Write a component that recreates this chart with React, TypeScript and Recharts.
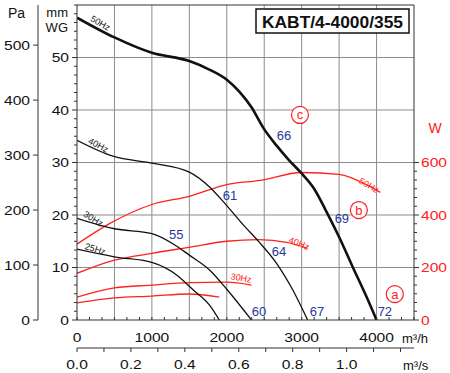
import { LineChart, Line, XAxis, YAxis, ReferenceLine, ReferenceDot } from 'recharts';

// pressure curves (m³/h -> Pa)
const q50 = [0, 500, 1000, 1500, 1760, 2000, 2170, 2330, 2490, 2660, 2830, 2990, 3160, 3320, 3500, 3680, 3860, 4000];
const pa50 = [550, 514, 486, 471, 456, 437, 415, 387, 349, 318, 291, 268, 240, 200, 151, 97, 44, 0];
const q40 = [0, 480, 1020, 1500, 1770, 2000, 2220, 2430, 2660, 2880, 3080];
const pa40 = [327, 298, 285, 269, 242, 208, 173, 142, 104, 55, 0];
const q30 = [0, 500, 1000, 1300, 1500, 1770, 2000, 2330];
const pa30 = [185, 166, 157, 137, 118, 91, 56, 0];
const q25 = [0, 500, 1020, 1330, 1550, 1770, 1900];
const pa25 = [129, 115, 104, 82, 55, 27, 0];

// power curves (m³/h -> W)
const wq50 = [0, 440, 1000, 1500, 2000, 2450, 3000, 3500, 3900, 4050];
const w50 = [289, 368, 440, 471, 516, 532, 562, 555, 510, 486];
const wq40 = [0, 500, 1000, 1500, 2000, 2430, 2800, 3080];
const w40 = [178, 228, 254, 277, 300, 306, 296, 273];
const wq30 = [0, 500, 1000, 1500, 2000, 2330];
const w30 = [87, 122, 133, 142, 144, 133];
const wq25 = [0, 500, 1000, 1500, 1900];
const w25 = [65, 84, 91, 99, 87];

// noise levels (dB) written on the chart
const noiseQ = [1324, 2044, 2764, 3537, 2431, 2697, 3204, 4111];
const noisePa = [155, 227, 336, 184, 15, 124, 15, 16];
const noiseText = ['55', '61', '66', '69', '60', '64', '67', '72'];

// circled zone letters
const zoneQ = [2977, 3764, 4244];
const zonePa = [373, 200, 47];
const zoneText = ['c', 'b', 'a'];

// curve captions
const capText = ['50Hz', '40Hz', '30Hz', '25Hz'];
const capQ = [311, 284, 217, 244];
const capPa = [540, 318, 184, 129];
const capAngle = [30, 28, 32, 18];
const wCapText = ['50Hz', '40Hz', '30Hz'];
const wCapQ = [3897, 2964, 2191];
const wCapW = [513, 292, 160];
const wCapAngle = [30, 22, 10];

// axes
const paTicks = [0, 100, 200, 300, 400, 500];
const mmLabels = [0, 10, 20, 30, 40, 50];
const wLabels = [0, 200, 400, 600];
const qLabels = [0, 1000, 2000, 3000, 4000];
const sLabels = [0, 0.2, 0.4, 0.6, 0.8, 1.0];
const sRange = [0, 1.25];
const gridQ = [500, 1000, 1500, 2000, 2500, 3000, 3500, 4000];
const gridMm = [10, 20, 30, 40, 50];

const steps = (end: number, step: number) => {
  const out: number[] = [];
  for (let i = 0; i * step <= end + 1e-9; i++) out.push(+(i * step).toFixed(4));
  return out;
};
const mmTicks = steps(60, 10 / 6);
const wTicks = steps(600, 200 / 6);
const qTicks = steps(4500, 1000 / 6);
const sTicks = steps(1.2, 0.1);

const RED = '#ff2020';
const BLUE = '#27389c';
const FONT = '"Liberation Sans", Arial, sans-serif';

const rows = (q: number[], v: number[]) => q.map((x, i) => ({ q: x, v: v[i] }));
const isIn = (list: number[], v: number) => list.some((l) => Math.abs(l - v) < 1e-6);

function makeTick(side: 'left' | 'right' | 'bottom' | 'up', labels: number[], color: string, fmt = (v: number) => String(v)) {
  return (props: any) => {
    const { x, y, payload } = props;
    const v = payload.value;
    const lab = isIn(labels, v);
    const len = lab ? 5 : 3;
    const text = (tx: number, ty: number, anchor: string) => (
      <text transform={`translate(${tx},${ty}) scale(1.2,1)`} textAnchor={anchor} fontSize={13} fill={color} fontFamily={FONT}>
        {fmt(v)}
      </text>
    );
    if (side === 'left')
      return (
        <g>
          <line x1={x - len} x2={x} y1={y} y2={y} stroke="#333" />
          {lab && text(x - 8, y + 4.5, 'end')}
        </g>
      );
    if (side === 'right')
      return (
        <g>
          <line x1={x} x2={x + len} y1={y} y2={y} stroke="#333" />
          {lab && text(x + 7, y + 4.5, 'start')}
        </g>
      );
    if (side === 'up')
      return (
        <g>
          <line x1={x} x2={x} y1={y - 3} y2={y} stroke="#333" />
          {lab && text(x, y + 22, 'middle')}
        </g>
      );
    return (
      <g>
        <line x1={x} x2={x} y1={y} y2={y + 4} stroke="#333" />
        {lab && text(x, y + 21, 'middle')}
      </g>
    );
  };
}

const pressure = [
  { id: 'p50', q: q50, v: pa50, w: 2.6 },
  { id: 'p40', q: q40, v: pa40, w: 1.3 },
  { id: 'p30', q: q30, v: pa30, w: 1.3 },
  { id: 'p25', q: q25, v: pa25, w: 1.3 },
];
const power = [
  { id: 'w50', q: wq50, v: w50 },
  { id: 'w40', q: wq40, v: w40 },
  { id: 'w30', q: wq30, v: w30 },
  { id: 'w25', q: wq25, v: w25 },
];

export default function App() {
  return (
    <div style={{ position: 'absolute', left: 0, top: 0, width: 450, height: 373, background: '#fff' }}>
      <LineChart width={450} height={373} margin={{ top: 5, right: 0, left: 8, bottom: 0 }}>
        <XAxis xAxisId="h" type="number" dataKey="q" domain={[0, 4500]} allowDataOverflow ticks={qTicks} interval={0}
          height={28} tickSize={0} tickMargin={0} stroke="#333" tick={makeTick('up', qLabels, '#111')} />
        <XAxis xAxisId="s" type="number" dataKey="s" domain={[0, 1.25]} allowDataOverflow ticks={sTicks} interval={0}
          height={25} tickSize={0} tickMargin={0} stroke="#333" tick={makeTick('bottom', sLabels, '#111', (v) => v.toFixed(1))} />
        <YAxis yAxisId="mm" orientation="left" domain={[0, 60]} allowDataOverflow ticks={mmTicks} interval={0}
          width={39} tickSize={0} tickMargin={0} stroke="#333" tick={makeTick('left', mmLabels, '#111')} />
        <YAxis yAxisId="pa" orientation="left" domain={[0, 573]} allowDataOverflow ticks={paTicks} interval={0}
          width={30} tickSize={0} tickMargin={0} stroke="#333" tick={makeTick('left', paTicks, '#111')} />
        <YAxis yAxisId="w" orientation="right" domain={[0, 1200]} allowDataOverflow ticks={wTicks} interval={0}
          width={36} tickSize={0} tickMargin={0} stroke="#333" tick={makeTick('right', wLabels, RED)} />

        {gridQ.map((g) => (
          <ReferenceLine key={'gx' + g} x={g} xAxisId="h" yAxisId="mm" stroke="#8c8c8c" strokeWidth={1} />
        ))}
        {gridMm.map((g) => (
          <ReferenceLine key={'gy' + g} y={g} xAxisId="h" yAxisId="mm" stroke="#8c8c8c" strokeWidth={1} />
        ))}
        <ReferenceLine y={60} xAxisId="h" yAxisId="mm" stroke="#333" strokeWidth={1.2} />

        {/* invisible carrier so the m³/s axis gets drawn */}
        <Line data={sRange.map((s) => ({ s, v: null }))} dataKey="v" xAxisId="s" yAxisId="mm" stroke="none"
          dot={false} isAnimationActive={false} />

        {power.map((s) => (
          <Line key={s.id} data={rows(s.q, s.v)} dataKey="v" xAxisId="h" yAxisId="w" type="monotoneX"
            stroke={RED} strokeWidth={1.3} dot={false} isAnimationActive={false} />
        ))}
        {pressure.map((s) => (
          <Line key={s.id} data={rows(s.q, s.v)} dataKey="v" xAxisId="h" yAxisId="pa" type="monotoneX"
            stroke="#111" strokeWidth={s.w} dot={false} isAnimationActive={false} />
        ))}

        {capText.map((t, i) => (
          <ReferenceDot key={'c' + i} x={capQ[i]} y={capPa[i]} xAxisId="h" yAxisId="pa" r={0} ifOverflow="visible"
            shape={(p: any) => (
              <text transform={`translate(${p.cx},${p.cy}) rotate(${capAngle[i]})`} textAnchor="middle" dominantBaseline="central"
                fontSize={9} fontFamily={FONT} fill="#111">{t}</text>
            )} />
        ))}
        {wCapText.map((t, i) => (
          <ReferenceDot key={'wc' + i} x={wCapQ[i]} y={wCapW[i]} xAxisId="h" yAxisId="w" r={0} ifOverflow="visible"
            shape={(p: any) => (
              <text transform={`translate(${p.cx},${p.cy}) rotate(${wCapAngle[i]})`} textAnchor="middle" dominantBaseline="central"
                fontSize={9} fontFamily={FONT} fill={RED}>{t}</text>
            )} />
        ))}
        {noiseText.map((t, i) => (
          <ReferenceDot key={'n' + i} x={noiseQ[i]} y={noisePa[i]} xAxisId="h" yAxisId="pa" r={0} ifOverflow="visible"
            shape={(p: any) => (
              <text x={p.cx} y={p.cy} textAnchor="middle" dominantBaseline="central" fontSize={13} fontFamily={FONT} fill={BLUE}>{t}</text>
            )} />
        ))}
        {zoneText.map((t, i) => (
          <ReferenceDot key={'z' + i} x={zoneQ[i]} y={zonePa[i]} xAxisId="h" yAxisId="pa" r={0} ifOverflow="visible"
            shape={(p: any) => (
              <g>
                <circle cx={p.cx} cy={p.cy} r={8.5} fill="#fff" stroke={RED} strokeWidth={1.2} />
                <text x={p.cx} y={p.cy} textAnchor="middle" dominantBaseline="central" fontSize={13} fontFamily={FONT} fill={RED}>{t}</text>
              </g>
            )} />
        ))}
      </LineChart>

      <svg width={450} height={373} style={{ position: 'absolute', left: 0, top: 0, pointerEvents: 'none' }} fontFamily={FONT}>
        <text x={8} y={18} fontSize={14} fill="#111">Pa</text>
        <text x={68} y={17} fontSize={13} fill="#111" textAnchor="end">mm</text>
        <text x={68} y={32} fontSize={13} fill="#111" textAnchor="end">WG</text>
        <text x={435} y={133} fontSize={14} fill={RED} textAnchor="middle">W</text>
        <text x={402} y={343} fontSize={13} fill="#111">m³/h</text>
        <text x={403} y={370} fontSize={13} fill="#111">m³/s</text>
        <rect x={256} y={9} width={153} height={24} fill="#fff" stroke="#111" strokeWidth={1.5} />
        <text x={262} y={27.5} fontSize={16} fontWeight="bold" fill="#111" textLength={141} lengthAdjust="spacingAndGlyphs">KABT/4-4000/355</text>
      </svg>
    </div>
  );
}
